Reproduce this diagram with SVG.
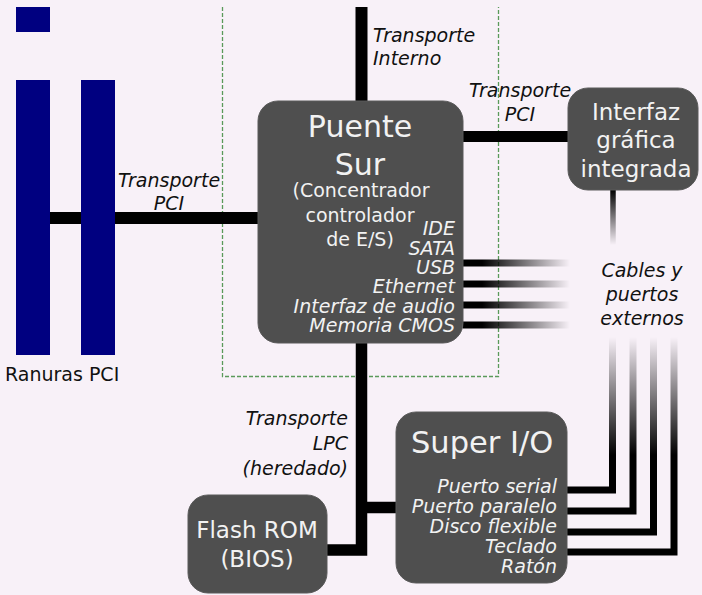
<svg xmlns="http://www.w3.org/2000/svg" width="702" height="595" viewBox="0 0 702 595">
<defs>
<style>
.bg{fill:#f8f1f8}
.box{fill:#4f4f4f;stroke:#5a5a5a;stroke-width:1}
.slot{fill:#000080}
.bus{fill:none;stroke:#000;stroke-width:12;stroke-linejoin:miter}
.t{font-family:"DejaVu Sans","Liberation Sans",sans-serif}
.wt{fill:#f2f2f2}
.dk{fill:#111}
.it{font-style:italic;font-size:19px}
.mid{text-anchor:middle}
.end{text-anchor:end}
</style>
<linearGradient id="gh" gradientUnits="userSpaceOnUse" x1="463" y1="0" x2="570" y2="0">
<stop offset="0" stop-color="#000" stop-opacity="1"/>
<stop offset="0.18" stop-color="#000" stop-opacity="1"/>
<stop offset="1" stop-color="#000" stop-opacity="0"/>
</linearGradient>
<linearGradient id="gv1" gradientUnits="userSpaceOnUse" x1="0" y1="190" x2="0" y2="245">
<stop offset="0" stop-color="#000" stop-opacity="1"/>
<stop offset="1" stop-color="#000" stop-opacity="0"/>
</linearGradient>
<linearGradient id="gv2" gradientUnits="userSpaceOnUse" x1="0" y1="337" x2="0" y2="455">
<stop offset="0" stop-color="#000" stop-opacity="0"/>
<stop offset="1" stop-color="#000" stop-opacity="1"/>
</linearGradient>
</defs>
<rect class="bg" x="0" y="0" width="702" height="595"/>
<path d="M222.5,7 V376.5 H498.5 V7" fill="none" stroke="#5a9a5a" stroke-width="1.3" stroke-dasharray="4,2"/>
<g id="connectors">
<path class="bus" d="M50,218 H258"/>
<path class="bus" d="M361.5,7 V101"/>
<path class="bus" d="M463,136.5 H568" style="stroke-width:11"/>
<path class="bus" d="M361.5,343 V550 H326" style="stroke-width:11.5"/>
<path class="bus" d="M361.5,507.5 H396" style="stroke-width:11.5"/>
<g fill="none" stroke="url(#gh)" stroke-width="7">
<path d="M463,263 H570"/>
<path d="M463,284 H570"/>
<path d="M463,305 H570"/>
<path d="M463,325 H570"/>
</g>
<path d="M613,190 V245" fill="none" stroke="url(#gv1)" stroke-width="5.5"/>
<g fill="none" stroke="url(#gv2)" stroke-width="7" stroke-linejoin="miter">
<path d="M566,490 H612.5 V337"/>
<path d="M566,511 H633 V337"/>
<path d="M566,532 H653.5 V337"/>
<path d="M566,552 H674 V337"/>
</g>
</g>
<g id="pci-slots">
<rect class="slot" x="16" y="7" width="34" height="25"/>
<rect class="slot" x="16" y="80" width="34" height="275"/>
<rect class="slot" x="81" y="80" width="34" height="275"/>
<text class="t dk" x="5" y="381" font-size="19">Ranuras PCI</text>
</g>
<g id="label-pci-left">
<text class="t dk it mid" x="169" y="187">Transporte</text>
<text class="t dk it mid" x="169" y="210">PCI</text>
</g>
<g id="label-interno">
<text class="t dk it" x="373" y="42">Transporte</text>
<text class="t dk it" x="373" y="65">Interno</text>
</g>
<g id="label-pci-right">
<text class="t dk it mid" x="520" y="97">Transporte</text>
<text class="t dk it mid" x="520" y="121">PCI</text>
</g>
<g id="puente-sur">
<rect class="box" x="258" y="101" width="205" height="242" rx="20" ry="20"/>
<text class="t wt mid" x="360" y="137" font-size="30">Puente</text>
<text class="t wt mid" x="360" y="175" font-size="30">Sur</text>
<text class="t wt mid" x="361" y="197" font-size="19">(Concentrador</text>
<text class="t wt mid" x="360" y="222" font-size="19">controlador</text>
<text class="t wt mid" x="360" y="246" font-size="19">de E/S)</text>
<text class="t wt it end" x="455" y="235">IDE</text>
<text class="t wt it end" x="455" y="255">SATA</text>
<text class="t wt it end" x="455" y="274">USB</text>
<text class="t wt it end" x="455" y="293">Ethernet</text>
<text class="t wt it end" x="455" y="313">Interfaz de audio</text>
<text class="t wt it end" x="455" y="332">Memoria CMOS</text>
</g>
<g id="interfaz-grafica">
<rect class="box" x="568" y="88" width="130" height="102" rx="20" ry="20"/>
<text class="t wt mid" x="636" y="120" font-size="23">Interfaz</text>
<text class="t wt mid" x="636" y="148" font-size="23">gráfica</text>
<text class="t wt mid" x="636" y="177" font-size="23">integrada</text>
</g>
<g id="cables">
<text class="t dk it mid" x="642" y="277">Cables y</text>
<text class="t dk it mid" x="642" y="301">puertos</text>
<text class="t dk it mid" x="642" y="325">externos</text>
</g>
<g id="label-lpc">
<text class="t dk it end" x="348" y="425">Transporte</text>
<text class="t dk it end" x="348" y="450">LPC</text>
<text class="t dk it end" x="348" y="475">(heredado)</text>
</g>
<g id="super-io">
<rect class="box" x="396" y="412" width="171" height="171" rx="20" ry="20"/>
<text class="t wt" x="411" y="453" font-size="30.5">Super I/O</text>
<text class="t wt it end" x="557" y="493">Puerto serial</text>
<text class="t wt it end" x="557" y="513">Puerto paralelo</text>
<text class="t wt it end" x="557" y="533">Disco flexible</text>
<text class="t wt it end" x="557" y="553">Teclado</text>
<text class="t wt it end" x="557" y="573">Ratón</text>
</g>
<g id="flash-rom">
<rect class="box" x="188" y="495" width="139" height="98" rx="20" ry="20"/>
<text class="t wt mid" x="257" y="538" font-size="23">Flash ROM</text>
<text class="t wt mid" x="257" y="567" font-size="23">(BIOS)</text>
</g>
</svg>
